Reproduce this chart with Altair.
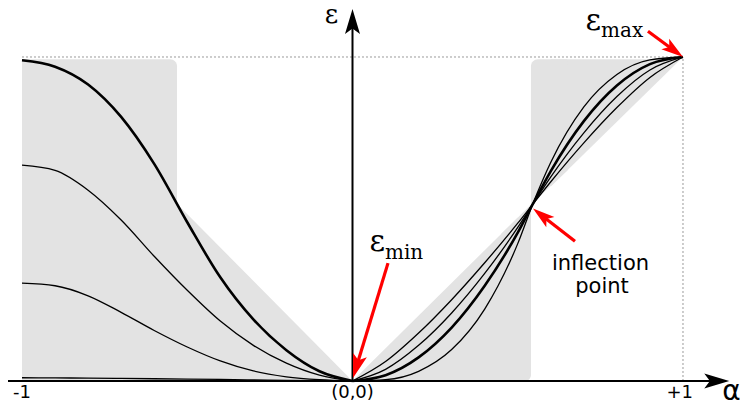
import math
import altair as alt
import pandas as pd

# ---------------- data ----------------
alpha_left = [-1.0, -0.9, -0.8, -0.7, -0.6, -0.5, -0.4, -0.3, -0.2, -0.1, 0.0]
eps_left_bold = [0.99, 0.97, 0.915, 0.815, 0.67, 0.49, 0.32, 0.19, 0.095, 0.03, 0.0]
eps_left_mid = [0.666, 0.65, 0.589, 0.497, 0.385, 0.28, 0.185, 0.11, 0.055, 0.018, 0.0]
eps_left_low = [0.302, 0.294, 0.263, 0.212, 0.156, 0.105, 0.062, 0.031, 0.013, 0.004, 0.0]
eps_left_flat = [0.01, 0.0095, 0.009, 0.008, 0.007, 0.006, 0.005, 0.0035, 0.002, 0.001, 0.0]

alpha_right = [0.0, 0.1, 0.2, 0.3, 0.4, 0.5, 0.545, 0.6, 0.7, 0.8, 0.9, 1.0]
eps_right_1 = [0.0, 0.060, 0.148, 0.251, 0.365, 0.487, 0.545, 0.615, 0.735, 0.844, 0.937, 1.0]
eps_right_2 = [0.0, 0.036, 0.110, 0.210, 0.332, 0.474, 0.545, 0.630, 0.766, 0.878, 0.960, 1.0]
eps_right_bold = [0.0, 0.018, 0.073, 0.165, 0.294, 0.458, 0.545, 0.648, 0.802, 0.912, 0.978, 1.0]
eps_right_4 = [0.0, 0.004, 0.030, 0.097, 0.222, 0.424, 0.545, 0.675, 0.846, 0.946, 0.991, 1.0]

# shaded regions
shade_top = 0.993
shade_left_edge = -0.531
shade_left_corner = 0.547
shade_right_edge = 0.54
shade_right_corner = 0.545

# annotations: [start alpha, start eps, tip alpha, tip eps]
arrow_min = [0.1074, 0.3639, 0.0015, 0.0092]
arrow_max = [0.894, 1.0795, 1.0, 1.0]
arrow_infl = [0.6732, 0.4312, 0.5461, 0.5321]

tick_labels = ["-1", "(0,0)", "+1"]
tick_pos = [-1.0, 0.0, 0.99]

# ---------------- layout ----------------
W, H = 732, 393
X_DOMAIN = [-1.04236, 1.17247]
Y_DOMAIN = [-0.0617, 1.1512]
PX_X = W / (X_DOMAIN[1] - X_DOMAIN[0])
PX_Y = H / (Y_DOMAIN[1] - Y_DOMAIN[0])
GREY = "#e3e3e3"
RED = "#ff0000"
ARROW_PATH = "M0,-1L0.6,1L0,0.55L-0.6,1Z"

xs = alt.Scale(domain=X_DOMAIN, nice=False, zero=False)
ys = alt.Scale(domain=Y_DOMAIN, nice=False, zero=False)


def X(f):
    return alt.X(f, type="quantitative", scale=xs, axis=None)


def Y(f):
    return alt.Y(f, type="quantitative", scale=ys, axis=None)


def area(xv, yv, y2v):
    df = pd.DataFrame({"x": xv, "y": yv, "y2": y2v})
    return alt.Chart(df).mark_area(color=GREY, opacity=1).encode(
        x=X("x"), y=Y("y"), y2=alt.Y2("y2"))


def rect(x1, x2, y1, y2, **corner):
    df = pd.DataFrame({"x": [x1], "x2": [x2], "y": [y1], "y2": [y2]})
    return alt.Chart(df).mark_rect(color=GREY, **corner).encode(
        x=X("x"), x2=alt.X2("x2"), y=Y("y"), y2=alt.Y2("y2"))


def rule(x1, x2, y1, y2, **kw):
    df = pd.DataFrame({"x": [x1], "x2": [x2], "y": [y1], "y2": [y2]})
    return alt.Chart(df).mark_rule(**kw).encode(
        x=X("x"), x2=alt.X2("x2"), y=Y("y"), y2=alt.Y2("y2"))


def head(ax, ay, angle, length, color):
    df = pd.DataFrame({"x": [ax], "y": [ay]})
    return alt.Chart(df).mark_point(
        shape=ARROW_PATH, filled=True, color=color, opacity=1,
        size=length * length, angle=angle, strokeWidth=0).encode(
        x=X("x"), y=Y("y"))


def arrow(spec, head_len, color, width):
    sx, sy, tx, ty = spec
    dxp = (tx - sx) * PX_X
    dyp = -(ty - sy) * PX_Y
    L = math.hypot(dxp, dyp)
    ux, uy = dxp / L, dyp / L
    ang = math.degrees(math.atan2(ux, -uy)) % 360
    cx = tx - ux * head_len / 2 / PX_X
    cy = ty + uy * head_len / 2 / PX_Y
    ex = tx - ux * head_len * 0.6 / PX_X
    ey = ty + uy * head_len * 0.6 / PX_Y
    return [rule(sx, ex, sy, ey, color=color, strokeWidth=width),
            head(cx, cy, ang, head_len, color)]


def text(x, y, t, **kw):
    df = pd.DataFrame({"x": [x], "y": [y], "t": [t]})
    return alt.Chart(df).mark_text(baseline="alphabetic", color="black", **kw).encode(
        x=X("x"), y=Y("y"), text="t:N")


layers = []

# shaded regions (pieces overlap so that no seams show)
k_left = shade_left_corner / -shade_left_edge
k_right = shade_right_corner / shade_right_edge
layers.append(rect(-1.0, shade_left_edge, 0.0, shade_top, cornerRadiusTopRight=7))
layers.append(area([-0.6, 0.0], [0.6 * k_left, 0.0], [0.0, 0.0]))
layers.append(area([0.0, 0.5], [0.0, 0.5 * k_right], [0.0, 0.0]))
layers.append(rect(0.45, shade_right_edge, 0.0, 0.45, cornerRadiusBottomRight=6))
layers.append(area([0.45, shade_right_edge], [0.45 * k_right, shade_right_corner], [0.2, 0.2]))
layers.append(area([shade_right_edge, 0.65], [shade_right_corner, 0.65], [0.9, 0.9]))
layers.append(area([0.6, shade_top], [0.6, shade_top], [shade_top, shade_top]))
layers.append(rect(shade_right_edge, 0.65, 0.65, shade_top, cornerRadiusTopLeft=7))

# dotted guides
layers.append(rule(-1.0, 1.0, 1.0, 1.0, color="#9a9a9a", strokeDash=[2, 2], strokeWidth=1))
layers.append(rule(1.0, 1.0, 0.0, 1.0, color="#9a9a9a", strokeDash=[2, 2], strokeWidth=1))

# curves
rows = []
for name, vals, bold in [("lb", eps_left_bold, True), ("lm", eps_left_mid, False),
                         ("ll", eps_left_low, False), ("lf", eps_left_flat, False)]:
    for a, e in zip(alpha_left, vals):
        rows.append({"s": name, "a": a, "e": e, "bold": bold})
for name, vals, bold in [("r1", eps_right_1, False), ("r2", eps_right_2, False),
                         ("rb", eps_right_bold, True), ("r4", eps_right_4, False)]:
    for a, e in zip(alpha_right, vals):
        rows.append({"s": name, "a": a, "e": e, "bold": bold})
curves = pd.DataFrame(rows)

layers.append(alt.Chart(curves[~curves.bold]).mark_line(
    color="black", strokeWidth=1.3, interpolate="monotone").encode(
    x=X("a"), y=Y("e"), detail="s:N"))
layers.append(alt.Chart(curves[curves.bold]).mark_line(
    color="black", strokeWidth=2.6, interpolate="monotone").encode(
    x=X("a"), y=Y("e"), detail="s:N"))

# axes with arrowheads
x_tip = 1.14
y_tip = 1.1481
layers.append(rule(X_DOMAIN[0], x_tip - 15 / PX_X, 0.0, 0.0, color="black", strokeWidth=2))
layers.append(head(x_tip - 12.5 / PX_X, 0.0, 90, 25, "black"))
layers.append(rule(0.0, 0.0, 0.0, y_tip - 15 / PX_Y, color="black", strokeWidth=2))
layers.append(head(0.0, y_tip - 12.5 / PX_Y, 0, 25, "black"))

# red arrows
layers += arrow(arrow_min, 24, RED, 3.2)
layers += arrow(arrow_max, 22, RED, 3.2)
layers += arrow(arrow_infl, 22, RED, 3.2)

# texts
for t, p in zip(tick_labels, tick_pos):
    layers.append(text(p, -0.0525, t, font="DejaVu Sans", fontSize=18, align="center"))
layers.append(text(1.147, -0.0586, "α", font="DejaVu Sans", fontSize=28, align="center"))
layers.append(text(-0.0635, 1.105, "ε", font="DejaVu Serif", fontSize=26, align="center"))
layers.append(text(0.0983, 0.4006, "ε", font="DejaVu Serif", fontSize=30, align="right"))
layers.append(text(0.0983, 0.3761, "min", font="DejaVu Serif", fontSize=20, align="left"))
layers.append(text(0.7519, 1.0826, "ε", font="DejaVu Serif", fontSize=30, align="right"))
layers.append(text(0.7519, 1.0612, "max", font="DejaVu Serif", fontSize=20, align="left"))
layers.append(text(0.7504, 0.3425, "inflection", font="DejaVu Sans", fontSize=21, align="center"))
layers.append(text(0.755, 0.271, "point", font="DejaVu Sans", fontSize=21, align="center"))

chart = alt.layer(*layers).properties(
    width=W, height=H, padding=0,
    autosize=alt.AutoSizeParams(type="none"),
    background="white",
).configure_view(stroke=None)

chart.save("out.html", embed_options={"renderer": "svg", "actions": False})
